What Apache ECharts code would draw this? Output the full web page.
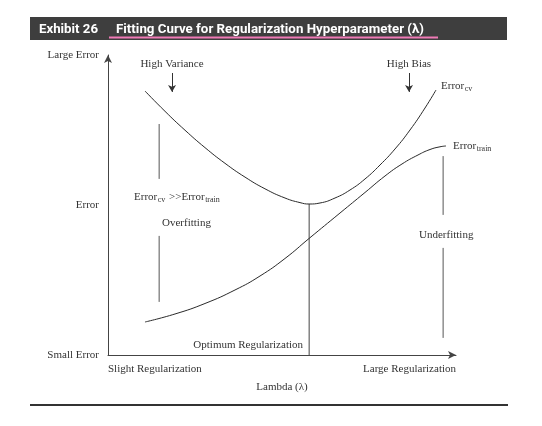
<!DOCTYPE html>
<html><head><meta charset="utf-8">
<script src="https://cdn.jsdelivr.net/npm/echarts@6/dist/echarts.min.js"></script>
<style>html,body{margin:0;padding:0;background:#fff}#c{width:542px;height:426px}</style>
</head><body><div id="c"></div>
<script>
// ---- data (lambda: 0..100, error: 0..100) ----
const cvX = [10.63, 16.38, 22.13, 27.87, 33.62, 39.37, 45.11, 50.86, 55.17, 57.76, 60.92, 65.23, 69.54, 73.85, 78.16, 82.47, 86.78, 91.09, 94.25];
const cvY = [88, 81.23, 74.93, 69.13, 63.9, 59.3, 55.4, 52.33, 50.8, 50.33, 50.67, 52.33, 55, 58.67, 63.33, 68.67, 75, 82.33, 88.33];
const trainX = [10.63, 19.25, 27.87, 36.49, 43.68, 50.86, 57.76, 66.67, 73.85, 79.6, 84.48, 89.08, 92.53, 95.4, 97.13];
const trainY = [11, 13.67, 17.17, 21.67, 26.33, 32.17, 38.83, 47.33, 54.17, 59.67, 63.67, 66.67, 68.5, 69.4, 69.67];
const optimumX = 57.8;
const optimumTop = 50.33;
const overfitX = 14.7;
const overfitBars = [[77, 58.7], [39.7, 17.7]];
const underfitX = 96.3;
const underfitBars = [[66.3, 46.7], [35.7, 5.7]];
const arrowX = [18.4, 86.5];
const arrowY = [94, 87.7];
const yTickLabels = {0: 'Small Error', 50: 'Error', 100: 'Large Error'};
const xTickLabels = {0: 'Slight Regularization', 100: 'Large Regularization'};

// ---- styles ----
const SERIF = 'Liberation Serif';
const TXT = '#333';
const mctx = document.createElement('canvas').getContext('2d');
function tw(text, font) { mctx.font = font; return mctx.measureText(text).width; }

function seg(x1, y1, x2, y2, color) {
  return {
    type: 'line', data: [[x1, y1], [x2, y2]], showSymbol: false, symbol: 'none',
    lineStyle: {color: color || '#555', width: 1}, silent: true, z: 2
  };
}

function txt(x, y, text, align, size) {
  return {
    type: 'text', x: x, y: y, silent: true,
    style: {text: text, fill: TXT, font: (size || 11) + 'px "' + SERIF + '"',
      textAlign: align || 'left', textVerticalAlign: 'middle'}
  };
}
// parts: [text, isSub]
function subText(x, y, parts) {
  const out = [];
  let cx = x;
  parts.forEach(([t, isSub]) => {
    const size = isSub ? 8 : 11;
    out.push(txt(cx, isSub ? y + 3 : y, t, 'left', size));
    cx += tw(t, size + 'px "' + SERIF + '"') + (isSub ? 1 : 0.5);
  });
  return out;
}

const titleFont = 'bold 13px Roboto';
const exW = tw('Exhibit 26', titleFont);
const tiText = 'Fitting Curve for Regularization Hyperparameter (\u03bb)';
const tiW = tw(tiText, titleFont);

const curveStyle = {color: '#2a2a2a', width: 1};
const series = [
  {type: 'line', data: cvX.map((x, i) => [x, cvY[i]]), smooth: 0.5, showSymbol: false, symbol: 'none',
    lineStyle: curveStyle, silent: true, z: 3},
  {type: 'line', data: trainX.map((x, i) => [x, trainY[i]]), smooth: 0.5, showSymbol: false, symbol: 'none',
    lineStyle: curveStyle, silent: true, z: 3},
  seg(optimumX, 0, optimumX, optimumTop, '#444'),
  ...overfitBars.map(b => seg(overfitX, b[0], overfitX, b[1])),
  ...underfitBars.map(b => seg(underfitX, b[0], underfitX, b[1])),
  {type: 'line', data: [], silent: true,
    markLine: {silent: true, symbol: ['none', 'arrow'], symbolSize: [6, 7],
      label: {show: false}, lineStyle: {color: '#333', width: 1, type: 'solid'},
      data: arrowX.map(x => [{coord: [x, arrowY[0]]}, {coord: [x, arrowY[1]]}])}}
];

const graphic = [
  {type: 'rect', shape: {x: 30, y: 17, width: 477, height: 23}, style: {fill: '#3e3e3e'}, silent: true},
  {type: 'text', x: 39, y: 29.5, scaleX: 59 / exW, silent: true,
    style: {text: 'Exhibit 26', fill: '#fff', font: titleFont, textAlign: 'left', textVerticalAlign: 'middle'}},
  {type: 'text', x: 116, y: 29.5, scaleX: 308 / tiW, silent: true,
    style: {text: tiText, fill: '#fff', font: titleFont, textAlign: 'left', textVerticalAlign: 'middle'}},
  {type: 'line', shape: {x1: 109, y1: 37.5, x2: 438, y2: 37.5}, style: {stroke: '#f07ab6', lineWidth: 2}, silent: true},
  {type: 'line', shape: {x1: 30, y1: 405, x2: 508, y2: 405}, style: {stroke: '#333', lineWidth: 2}, silent: true},
  txt(172, 64, 'High Variance', 'center'),
  txt(409, 64, 'High Bias', 'center'),
  ...subText(441, 86, [['Error', false], ['cv', true]]),
  ...subText(453, 146, [['Error', false], ['train', true]]),
  ...subText(134, 197, [['Error', false], ['cv', true], [' >>Error', false], ['train', true]]),
  txt(162, 223, 'Overfitting'),
  txt(419, 235, 'Underfitting'),
  txt(303, 345, 'Optimum Regularization', 'right')
];

const chart = echarts.init(document.getElementById('c'), null, {renderer: 'canvas'});
chart.setOption({
  animation: false,
  backgroundColor: '#fff',
  grid: {left: 108, top: 55, width: 348, height: 300, containLabel: false},
  xAxis: {
    type: 'value', min: 0, max: 100, interval: 100,
    name: 'Lambda (\u03bb)', nameLocation: 'middle', nameGap: 27,
    nameTextStyle: {fontFamily: SERIF, fontSize: 11, color: TXT, verticalAlign: 'top'},
    axisLine: {show: true, symbol: ['none', 'arrow'], symbolSize: [6, 8], lineStyle: {color: '#444', width: 1}},
    axisTick: {show: false}, splitLine: {show: false},
    axisLabel: {formatter: v => xTickLabels[v] || '', fontFamily: SERIF, fontSize: 11, color: TXT, margin: 9,
      alignMinLabel: 'left', alignMaxLabel: 'right', showMinLabel: true, showMaxLabel: true}
  },
  yAxis: {
    type: 'value', min: 0, max: 100, interval: 50,
    axisLine: {show: true, symbol: ['none', 'arrow'], symbolSize: [6, 8], lineStyle: {color: '#444', width: 1}},
    axisTick: {show: false}, splitLine: {show: false},
    axisLabel: {formatter: v => yTickLabels[v] || '', fontFamily: SERIF, fontSize: 11, color: TXT, margin: 9,
      showMinLabel: true, showMaxLabel: true}
  },
  series: series,
  graphic: graphic
});
</script>
</body></html>
